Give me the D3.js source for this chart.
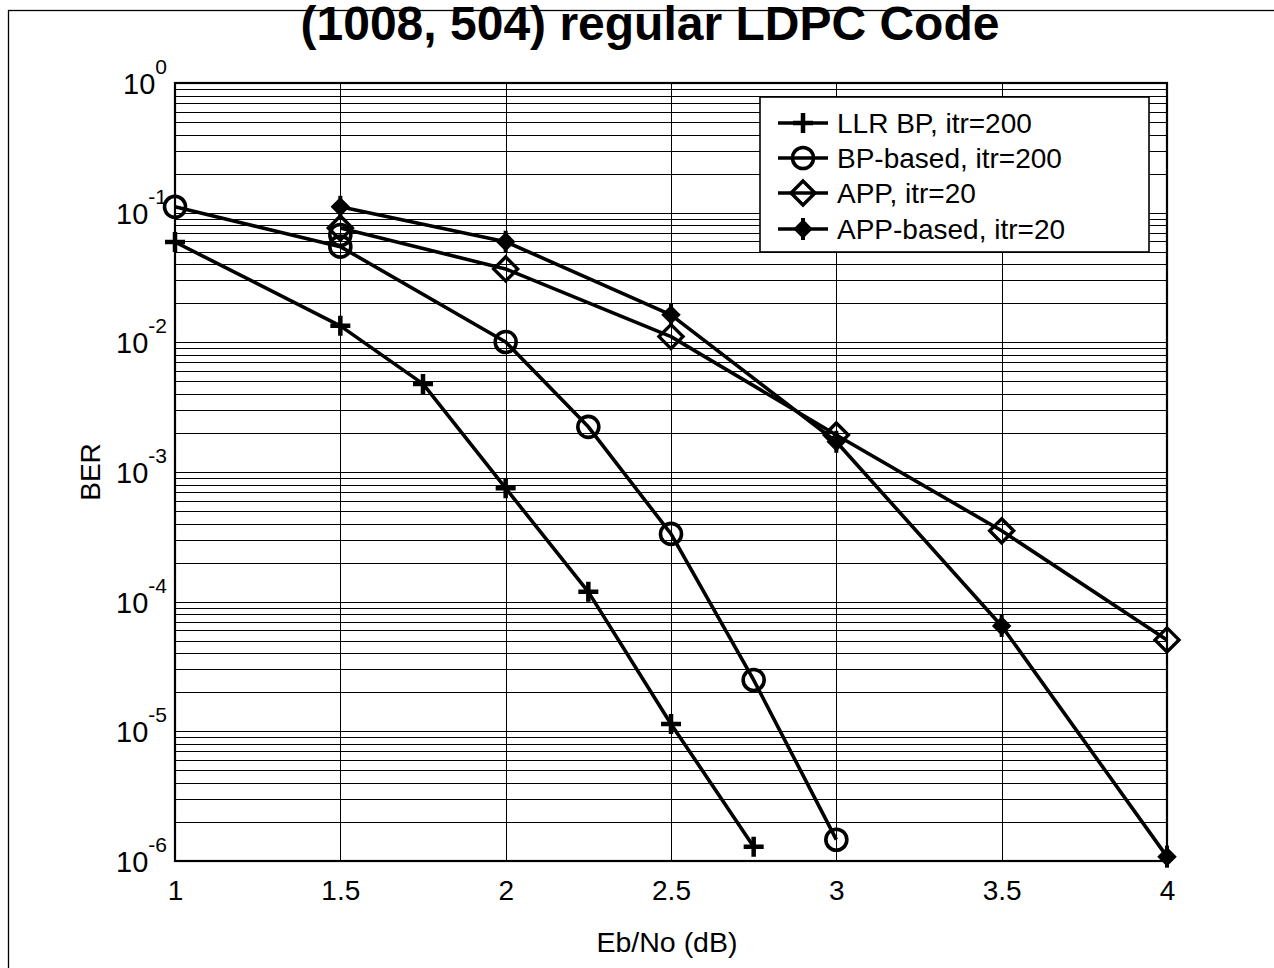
<!DOCTYPE html>
<html>
<head>
<meta charset="utf-8">
<script src="https://cdn.jsdelivr.net/npm/d3@7/dist/d3.min.js"></script>
<style>
  html, body { margin: 0; padding: 0; background: #fff; }
  svg { display: block; font-family: Arial, "Liberation Sans", sans-serif; }
</style>
</head>
<body>
<svg id="chart" width="1274" height="968"></svg>
<script>
// ---- data ----
const titleText = "(1008, 504) regular LDPC Code";
const xLabel = "Eb/No (dB)";
const yLabel = "BER";
const xTicks = [1, 1.5, 2, 2.5, 3, 3.5, 4];
const yTickExps = [0, -1, -2, -3, -4, -5, -6];

const seriesNames = ["LLR BP, itr=200", "BP-based, itr=200", "APP, itr=20", "APP-based, itr=20"];
const seriesMarkers = ["plus", "circle", "diamond", "filled"];

const llrX = [1, 1.5, 1.75, 2, 2.25, 2.5, 2.75];
const llrY = [0.0594, 0.0134, 0.00478, 7.5e-4, 1.19e-4, 1.14e-5, 1.29e-6];

const bpX = [1, 1.5, 2, 2.25, 2.5, 2.75, 3];
const bpY = [0.111, 0.0547, 0.01007, 0.00223, 3.33e-4, 2.49e-5, 1.46e-6];
const bpExtraX = [1.5];
const bpExtraY = [0.0673];

const appX = [1.5, 2, 2.5, 3, 3.5, 4];
const appY = [0.0762, 0.0368, 0.01107, 0.00193, 3.52e-4, 5.07e-5];

const appbX = [1.5, 2, 2.5, 3, 3.5, 4];
const appbY = [0.111, 0.0597, 0.0163, 0.00171, 6.5e-5, 1.08e-6];

// ---- layout ----
const svg = d3.select("#chart");
const L = 175, R = 1167, T = 83, B = 861;
const x = d3.scaleLinear().domain([1, 4]).range([L, R]);
const y = d3.scaleLog().domain([1e-6, 1]).range([B, T]);

// outer frame
svg.append("rect").attr("x", 8.5).attr("y", 10.5).attr("width", 1300).attr("height", 1000)
  .attr("fill", "none").attr("stroke", "#000").attr("stroke-width", 1.3);

// grid: horizontal at every log minor tick
const gridY = [];
for (let e = -6; e < 0; e++) for (let m = 1; m <= 9; m++) gridY.push(m * Math.pow(10, e));
gridY.push(1);
const g = svg.append("g");
g.selectAll("line.gy").data(gridY).enter().append("line")
  .attr("x1", L).attr("x2", R)
  .attr("y1", d => Math.round(y(d)) + 0.5).attr("y2", d => Math.round(y(d)) + 0.5)
  .attr("stroke", "#000").attr("stroke-width", 1);
g.selectAll("line.gx").data(xTicks).enter().append("line")
  .attr("y1", T).attr("y2", B)
  .attr("x1", d => Math.round(x(d)) + 0.5).attr("x2", d => Math.round(x(d)) + 0.5)
  .attr("stroke", "#000").attr("stroke-width", 1);

// axes box
svg.append("rect").attr("x", L).attr("y", T).attr("width", R - L).attr("height", B - T)
  .attr("fill", "none").attr("stroke", "#000").attr("stroke-width", 2.2);

// x tick labels via axis
const xAxis = d3.axisBottom(x).tickValues(xTicks).tickSize(0).tickPadding(0)
  .tickFormat(d => d3.format("")(d));
const xg = svg.append("g").attr("transform", `translate(0,${B})`).call(xAxis);
xg.select(".domain").remove();
xg.selectAll("text").attr("font-size", 28).attr("fill", "#000")
  .attr("dy", null).attr("y", 39).attr("font-family", "Arial, 'Liberation Sans', sans-serif");

// y tick labels
const yl = svg.append("g");
yTickExps.forEach(e => {
  const t = yl.append("text").attr("x", 167).attr("y", y(Math.pow(10, e)) + 11)
    .attr("text-anchor", "end").attr("font-size", 29).attr("fill", "#000");
  t.append("tspan").text("10");
  t.append("tspan").attr("dy", -20).attr("font-size", 21).text(String(e));
});

// axis labels
svg.append("text").attr("x", 667).attr("y", 952).attr("text-anchor", "middle")
  .attr("font-size", 28.5).text(xLabel);
svg.append("text").attr("transform", `translate(100,${(T + B) / 2}) rotate(-90)`)
  .attr("text-anchor", "middle").attr("font-size", 28).text(yLabel);

// title
svg.append("text").attr("x", 650).attr("y", 40).attr("text-anchor", "middle")
  .attr("font-size", 48).attr("font-weight", "bold").text(titleText);

// marker drawing
function drawMarker(sel, type, cx, cy) {
  if (type === "plus") {
    sel.append("path").attr("d", `M${cx - 10},${cy}H${cx + 10}M${cx},${cy - 10}V${cy + 10}`)
      .attr("stroke", "#000").attr("stroke-width", 4.5).attr("fill", "none");
  } else if (type === "circle") {
    sel.append("circle").attr("cx", cx).attr("cy", cy).attr("r", 10.5)
      .attr("stroke", "#000").attr("stroke-width", 3.6).attr("fill", "none");
  } else if (type === "diamond") {
    const s = 12;
    sel.append("path").attr("d", `M${cx},${cy - s}L${cx + s},${cy}L${cx},${cy + s}L${cx - s},${cy}Z`)
      .attr("stroke", "#000").attr("stroke-width", 3.4).attr("fill", "none");
  } else if (type === "filled") {
    const s = 8;
    sel.append("path").attr("d", `M${cx},${cy - s}L${cx + s},${cy}L${cx},${cy + s}L${cx - s},${cy}Z`)
      .attr("stroke", "#000").attr("stroke-width", 2.5).attr("fill", "#000");
    sel.append("path").attr("d", `M${cx},${cy - 11}V${cy + 11}`)
      .attr("stroke", "#000").attr("stroke-width", 4);
  }
}

const allSeries = [
  { xs: llrX, ys: llrY, m: seriesMarkers[0] },
  { xs: bpX, ys: bpY, m: seriesMarkers[1] },
  { xs: appX, ys: appY, m: seriesMarkers[2] },
  { xs: appbX, ys: appbY, m: seriesMarkers[3] }
];
const line = d3.line().x(d => x(d[0])).y(d => y(d[1]));
const dataG = svg.append("g");
allSeries.forEach(s => {
  const pts = s.xs.map((v, i) => [v, s.ys[i]]);
  dataG.append("path").datum(pts).attr("d", line)
    .attr("fill", "none").attr("stroke", "#000").attr("stroke-width", 3.6)
    .attr("stroke-linejoin", "round");
  pts.forEach(p => drawMarker(dataG, s.m, x(p[0]), y(p[1])));
});
bpExtraX.forEach((v, i) => drawMarker(dataG, "circle", x(v), y(bpExtraY[i])));

// legend
const lg = svg.append("g");
lg.append("rect").attr("x", 760).attr("y", 97).attr("width", 389).attr("height", 155)
  .attr("fill", "#fff").attr("stroke", "#000").attr("stroke-width", 1.6);
const legY = [123, 158, 193, 229];
seriesNames.forEach((name, i) => {
  const ly = legY[i];
  lg.append("line").attr("x1", 778).attr("x2", 828).attr("y1", ly).attr("y2", ly)
    .attr("stroke", "#000").attr("stroke-width", 3.6);
  drawMarker(lg, seriesMarkers[i], 803, ly);
  lg.append("text").attr("x", 837).attr("y", ly + 10).attr("font-size", 28).text(name);
});
</script>
</body>
</html>
